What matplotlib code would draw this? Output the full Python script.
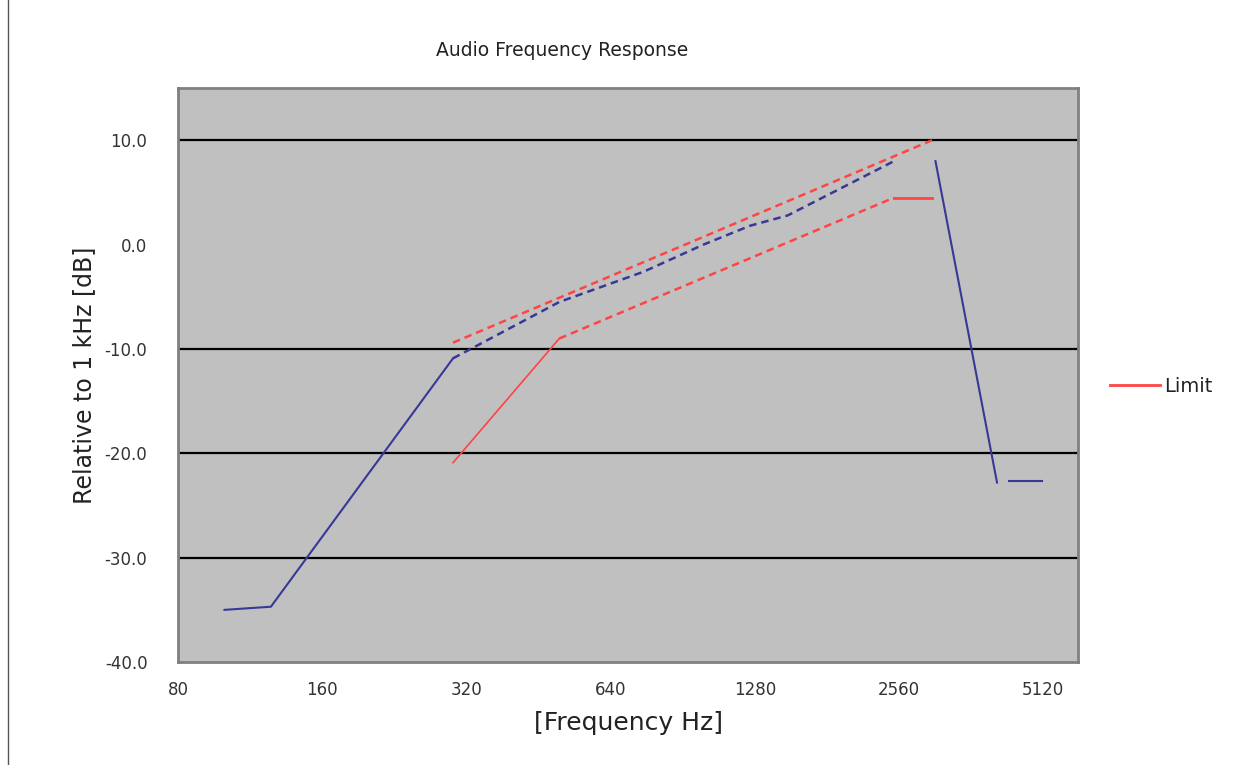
import numpy as np
import matplotlib
matplotlib.use("Agg")
import matplotlib.pyplot as plt
from matplotlib.lines import Line2D

plt.rcParams['font.family'] = ['DejaVu Sans']

# measured response (blue)
blue_freq = [100, 125, 300, 500, 750, 1000, 1250, 1500, 2500, 3050, 4100, 4350, 5100]
blue_db = [-35.0, -34.7, -10.9, -5.5, -2.6, 0.0, 1.8, 2.8, 8.0, 8.0, -22.8, -22.7, -22.7]

# limit lines (red)
upper_freq = [300, 3000]
upper_db = [-9.4, 10.0]
lower_freq = [300, 500, 2500, 3000]
lower_db = [-20.9, -9.0, 4.5, 4.5]

xticks = [80, 160, 320, 640, 1280, 2560, 5120]
yticks = [-40, -30, -20, -10, 0, 10]
ytick_labels = ["-40.0", "-30.0", "-20.0", "-10.0", "0.0", "10.0"]
grid_levels = [10, -10, -20, -30]

blue = "#383896"
red = "#ff4444"
dash = (3, 2)

fig = plt.figure(figsize=(12.53, 7.65), dpi=100)
ax = fig.add_axes([0.1421, 0.1346, 0.7182, 0.7503])
ax.set_facecolor("#c0c0c0")

for g in grid_levels:
    ax.axhline(g, color="black", lw=1.6, zorder=1)

bf = np.array(blue_freq)
bd = np.array(blue_db)
ax.plot(bf[0:3], bd[0:3], color=blue, lw=1.5, zorder=3)
ax.plot(bf[2:9], bd[2:9], color=blue, lw=1.8, dashes=dash, zorder=3)
ax.plot(bf[9:11], bd[9:11], color=blue, lw=1.5, zorder=3)
ax.plot(bf[11:13], bd[11:13], color=blue, lw=1.5, zorder=3)

lf = np.array(lower_freq)
ld = np.array(lower_db)
ax.plot(upper_freq, upper_db, color=red, lw=1.8, dashes=dash, zorder=3)
ax.plot(lf[0:2], ld[0:2], color=red, lw=1.2, zorder=3)
ax.plot(lf[1:3], ld[1:3], color=red, lw=1.8, dashes=dash, zorder=3)
ax.plot(lf[2:4], ld[2:4], color=red, lw=2.0, zorder=3)

ax.set_xscale("log", base=2)
ax.set_xlim(80, 6050)
ax.set_ylim(-40, 15)
ax.set_xticks(xticks)
ax.set_xticklabels([str(t) for t in xticks])
ax.xaxis.set_minor_locator(matplotlib.ticker.NullLocator())
ax.set_yticks(yticks)
ax.set_yticklabels(ytick_labels)
ax.tick_params(axis="both", length=0, labelsize=12, colors="#333333")
ax.tick_params(axis="y", pad=22)
ax.tick_params(axis="x", pad=14)

for s in ax.spines.values():
    s.set_color("#808080")
    s.set_linewidth(2)

ax.set_xlabel("[Frequency Hz]", fontsize=18, labelpad=8, color="#222222")
ax.set_ylabel("Relative to 1 kHz [dB]", fontsize=17, labelpad=6, color="#222222")
fig.text(562 / 1253, 1 - 50 / 765, "Audio Frequency Response", fontsize=13.5,
         ha="center", va="center", color="#222222")

lim_handle = Line2D([], [], color=red, lw=2)
fig.legend(handles=[lim_handle], labels=["Limit"], loc="center left",
           bbox_to_anchor=(1092 / 1253, 1 - 386 / 765), frameon=False,
           fontsize=14, handlelength=2.6, handletextpad=0.2, labelcolor="#222222")

fig.add_artist(Line2D([8 / 1253, 8 / 1253], [0, 1], color="#555555", lw=1))

fig.savefig("out.png", dpi=100)
